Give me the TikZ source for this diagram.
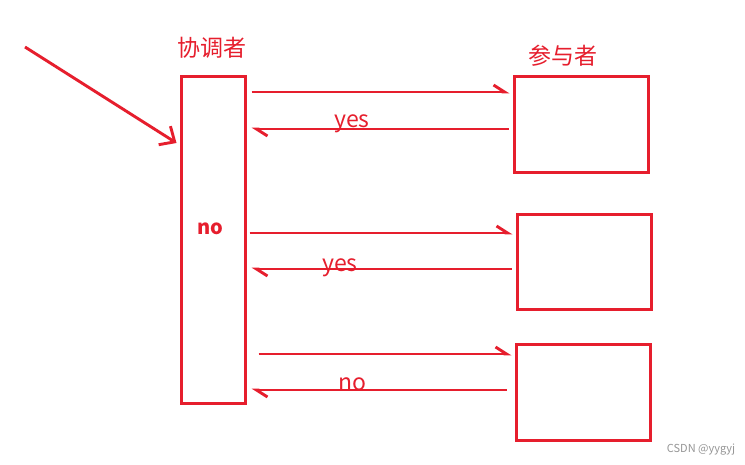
\documentclass[tikz,border=0pt]{standalone}
\usepackage{fontspec}
\setmainfont{Noto Sans CJK SC}
\newfontfamily\cjk{Noto Sans CJK SC}
\usepackage{xcolor}
\usepackage{tikz}
\usetikzlibrary{positioning, arrows.meta, calc}

\definecolor{cred}{RGB}{230,30,45}
\definecolor{cmark}{RGB}{150,150,150}

\begin{document}
\begin{tikzpicture}[x=1pt, y=-1pt,
  box/.style={
    rectangle, draw=cred, line width=3pt,
    minimum width=134pt, minimum height=95pt,
    inner sep=0pt,
  },
  title/.style={text=cred, font=\cjk\fontsize{23}{25}\selectfont, inner sep=0pt},
  answer/.style={text=cred, font=\cjk\fontsize{23}{25}\selectfont, inner sep=0pt},
  msg/.style={-{Straight Barb[harpoon, length=11pt, width=14pt]}, cred, line width=2.9pt},
  start/.style={-{Straight Barb[length=12pt, width=22pt]}, cred, line width=2.9pt},
]
\useasboundingbox[fill=white] (0,0) rectangle (745,465);

% Coordinator column on the left, three participants on the right.
\node[box, minimum width=64pt, minimum height=326pt] (coord) at (213,240) {};
\node[title] (coordlbl) at (212,48) {协调者};
\node[text=cred, font=\cjk\bfseries\fontsize{20}{22}\selectfont, inner sep=0pt] (vote) at (210,229) {no};

\node[box, minimum height=96pt] (part1) at (581,125) {};
\node[box]                      (part2) at (584,262.5) {};
\node[box]                      (part3) at (583,392.5) {};
\node[title] (partlbl) at (563,56) {参与者};

% Incoming request.
\coordinate (req) at (25,47);
\draw[start] (req) -- ($(coord.west |- 0,143)+(-3,0)$);

% Requests out, answers back.
\foreach \p/\yo/\yb/\so/\eb in {part1/92/129/5/-4, part2/233/269/3/-4, part3/354/390/12/-8} {
  \draw[msg] ($(coord.east |- 0,\yo)+(\so,0)$) -- ($(\p.west |- 0,\yo)+(-3,0)$);
  \draw[msg] ($(\p.west |- 0,\yb)+(\eb,0)$) -- ($(coord.east |- 0,\yb)+(5,0)$);
}

\node[answer] (ans1) at (352,124) {yes};
\node[answer] (ans2) at (340,268) {yes};
\node[answer] (ans3) at (352,384) {no};

\node[text=cmark, font=\fontsize{11}{13}\selectfont, inner sep=0pt] (mark) at (701,450) {CSDN @yygyj};

\end{tikzpicture}
\end{document}
